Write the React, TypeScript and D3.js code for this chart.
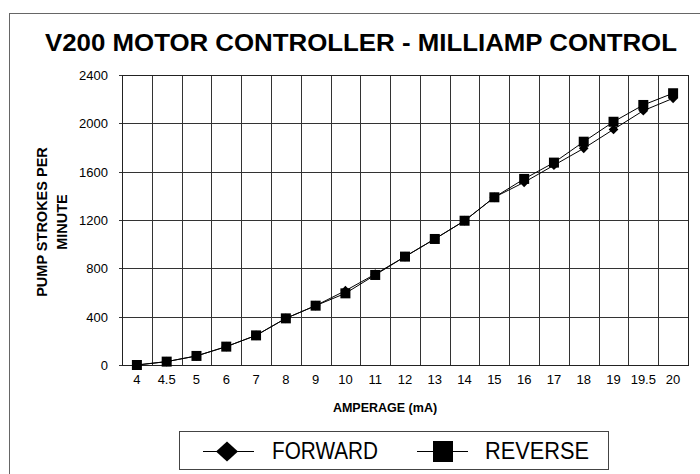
import { useEffect, useRef } from 'react';
import * as d3 from 'd3';

const categories = ['4', '4.5', '5', '6', '7', '8', '9', '10', '11', '12', '13', '14', '15', '16', '17', '18', '19', '19.5', '20'];
const forward = [0, 28, 75, 152, 245, 386, 491, 615, 752, 897, 1043, 1194, 1388, 1512, 1653, 1793, 1950, 2105, 2207];
const reverse = [0, 28, 75, 152, 245, 386, 491, 593, 745, 897, 1043, 1194, 1388, 1540, 1675, 1848, 2013, 2152, 2249];
const yTicks = [0, 400, 800, 1200, 1600, 2000, 2400];
const seriesNames = ['FORWARD', 'REVERSE'];

export default function App() {
  const svgRef = useRef<SVGSVGElement>(null);

  useEffect(() => {
    if (!svgRef.current) return;
    const width = 700;
    const height = 474;
    const svg = d3.select(svgRef.current).attr('viewBox', `0 0 ${width} ${height}`);
    svg.selectAll('*').remove();

    const font = 'Liberation Sans, Arial, sans-serif';
    const left = 122, right = 688, top = 75, bottom = 365;

    // outer frame
    svg.append('rect')
      .attr('x', 9.5).attr('y', 13.5)
      .attr('width', width).attr('height', height)
      .attr('fill', 'white').attr('stroke', '#666').attr('stroke-width', 1);

    svg.append('text')
      .attr('x', 45).attr('y', 50.5)
      .attr('textLength', 632).attr('lengthAdjust', 'spacingAndGlyphs')
      .style('font-family', font).style('font-weight', 'bold').style('font-size', '24.5px')
      .text('V200 MOTOR CONTROLLER - MILLIAMP CONTROL');

    const x = d3.scaleBand().domain(categories).range([left, right]);
    const y = d3.scaleLinear().domain([0, 2400]).range([bottom, top]);
    const cx = (i: number) => (x(categories[i]) ?? 0) + x.bandwidth() / 2;

    const g = svg.append('g');

    // vertical grid at band edges
    categories.forEach((c, i) => {
      if (i === 0) return;
      const xv = Math.round(x(c) ?? 0) + 0.5;
      g.append('line').attr('x1', xv).attr('x2', xv).attr('y1', top).attr('y2', bottom)
        .attr('stroke', '#333').attr('stroke-width', 1);
    });
    // horizontal grid + ticks
    yTicks.forEach(t => {
      const yv = Math.round(y(t)) + 0.5;
      g.append('line').attr('x1', left - 3).attr('x2', right).attr('y1', yv).attr('y2', yv)
        .attr('stroke', '#333').attr('stroke-width', 1);
      g.append('text').attr('x', left - 14).attr('y', yv + 4.5)
        .attr('text-anchor', 'end')
        .style('font-family', font).style('font-size', '13px')
        .text(t);
    });
    g.append('rect')
      .attr('x', left + 0.5).attr('y', top + 0.5)
      .attr('width', right - left).attr('height', bottom - top)
      .attr('fill', 'none').attr('stroke', '#222').attr('stroke-width', 1);

    categories.forEach((c, i) => {
      g.append('text').attr('x', cx(i)).attr('y', 384)
        .attr('text-anchor', 'middle')
        .style('font-family', font).style('font-size', '13px')
        .text(c);
    });

    svg.append('text').attr('x', 385).attr('y', 412)
      .attr('text-anchor', 'middle')
      .style('font-family', font).style('font-weight', 'bold').style('font-size', '12.5px')
      .text('AMPERAGE (mA)');

    const yl = svg.append('text')
      .attr('transform', `translate(0,222) rotate(-90)`)
      .attr('text-anchor', 'middle')
      .style('font-family', font).style('font-weight', 'bold').style('font-size', '14.5px');
    yl.append('tspan').attr('x', 0).attr('y', 46.5).text('PUMP STROKES PER');
    yl.append('tspan').attr('x', 0).attr('y', 66.5).text('MINUTE');

    const line = d3.line<number>().x((_, i) => cx(i)).y(d => y(d));
    const diamond = d3.symbol().type(d3.symbolDiamond2).size(60);

    [forward, reverse].forEach(vals => {
      g.append('path').attr('d', line(vals)).attr('fill', 'none')
        .attr('stroke', '#000').attr('stroke-width', 1);
    });
    forward.forEach((v, i) => {
      g.append('path').attr('d', diamond()).attr('transform', `translate(${cx(i)},${y(v)})`)
        .attr('fill', '#000');
    });
    reverse.forEach((v, i) => {
      g.append('rect').attr('x', cx(i) - 5).attr('y', y(v) - 5)
        .attr('width', 10).attr('height', 10).attr('fill', '#000');
    });

    // legend
    const lg = svg.append('g');
    lg.append('rect').attr('x', 179.5).attr('y', 431.5).attr('width', 429).attr('height', 38)
      .attr('fill', 'white').attr('stroke', '#444').attr('stroke-width', 1);
    const items = [
      { name: seriesNames[0], x0: 203, tx: 272, tw: 106 },
      { name: seriesNames[1], x0: 417, tx: 485, tw: 104 },
    ];
    items.forEach((it, k) => {
      lg.append('line').attr('x1', it.x0).attr('x2', it.x0 + 51).attr('y1', 451.5).attr('y2', 451.5)
        .attr('stroke', '#000').attr('stroke-width', 1);
      if (k === 0) {
        lg.append('path').attr('d', 'M0,-10L11,0L0,10L-11,0Z')
          .attr('transform', `translate(${it.x0 + 24},451.5)`).attr('fill', '#000');
      } else {
        lg.append('rect').attr('x', it.x0 + 16).attr('y', 441).attr('width', 20).attr('height', 21).attr('fill', '#000');
      }
      lg.append('text').attr('x', it.tx).attr('y', 459)
        .attr('textLength', it.tw).attr('lengthAdjust', 'spacingAndGlyphs')
        .style('font-family', font).style('font-size', '23px')
        .text(it.name);
    });
  }, []);

  return (
    <svg ref={svgRef} width={700} height={474}
      style={{ position: 'absolute', left: 0, top: 0, display: 'block', background: 'white' }} />
  );
}
